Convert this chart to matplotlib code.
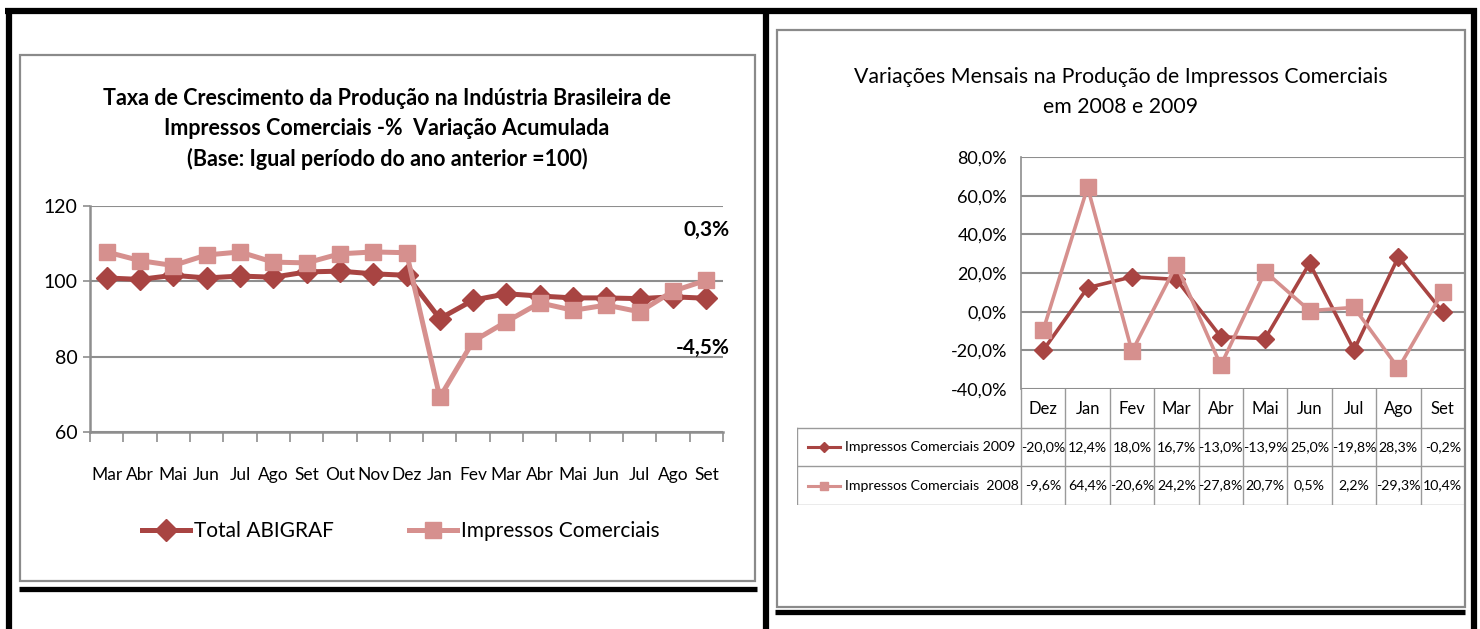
import matplotlib
matplotlib.use('Agg')
import matplotlib.pyplot as plt
from matplotlib.lines import Line2D
from matplotlib.patches import Rectangle

plt.rcParams['font.family'] = ['Lato', 'DejaVu Sans']

# ---------------- data ----------------
left_months = ['Mar', 'Abr', 'Mai', 'Jun', 'Jul', 'Ago', 'Set', 'Out', 'Nov', 'Dez',
               'Jan', 'Fev', 'Mar', 'Abr', 'Mai', 'Jun', 'Jul', 'Ago', 'Set']
total_abigraf = [100.9, 100.5, 101.6, 100.9, 101.4, 101.1, 102.5, 102.7, 102.0, 101.6,
                 90.1, 95.0, 96.7, 96.1, 95.6, 95.6, 95.4, 95.9, 95.5]
impressos_acum = [107.8, 105.5, 104.2, 107.0, 107.8, 105.1, 104.9, 107.3, 107.8, 107.6,
                  69.2, 84.1, 89.3, 94.3, 92.3, 93.7, 91.9, 97.4, 100.3]
left_yticks = [60, 80, 100, 120]

right_months = ['Dez', 'Jan', 'Fev', 'Mar', 'Abr', 'Mai', 'Jun', 'Jul', 'Ago', 'Set']
imp_2009 = [-20.0, 12.4, 18.0, 16.7, -13.0, -13.9, 25.0, -19.8, 28.3, -0.2]
imp_2008 = [-9.6, 64.4, -20.6, 24.2, -27.8, 20.7, 0.5, 2.2, -29.3, 10.4]
right_yticks = [-40, -20, 0, 20, 40, 60, 80]

DARK = '#A84442'
LIGHT = '#D6908E'
GRID = '#8E8E8E'

W, H = 1480, 629
fig = plt.figure(figsize=(14.8, 6.29), dpi=100)


def fx(px):
    return px / W


def fy(py):
    return 1 - py / H


def fline(x0, y0, x1, y1, lw, color='black'):
    fig.add_artist(Line2D([fx(x0), fx(x1)], [fy(y0), fy(y1)], transform=fig.transFigure,
                          color=color, lw=lw, solid_capstyle='butt'))


def fbox(x0, y0, x1, y1):
    fig.add_artist(Rectangle((fx(x0), fy(y1)), fx(x1) - fx(x0), fy(y0) - fy(y1),
                             transform=fig.transFigure, fill=False, edgecolor='#8A8A8A', lw=1.6))


# chart boxes
fbox(20, 55, 755, 581)
fbox(777, 30, 1465, 607)

# thick black frame lines
fline(5, 11, 1477, 11, 4.5)
fline(9, 8, 9, 629, 4.5)
fline(766, 8, 766, 629, 4.5)
fline(1474, 8, 1474, 629, 4.5)
fline(19, 589, 757, 589, 3.8)
fline(775, 612, 1465, 612, 3.8)

# ---------------- left chart ----------------
ax1 = fig.add_axes([fx(90), fy(432), fx(723) - fx(90), fy(206) - fy(432)])
x1 = list(range(len(left_months)))
ax1.plot(x1, total_abigraf, color=DARK, lw=3.6, marker='D', markersize=11, label='Total ABIGRAF', zorder=3)
ax1.plot(x1, impressos_acum, color=LIGHT, lw=3.6, marker='s', markersize=12, label='Impressos Comerciais', zorder=4)
ax1.set_xlim(-0.5, len(left_months) - 0.5)
ax1.set_ylim(60, 120)
ax1.set_yticks(left_yticks)
ax1.set_xticks(x1)
ax1.set_xticklabels(left_months, fontsize=12.5)
ax1.set_xticks([i - 0.5 for i in range(len(left_months) + 1)], minor=True)
ax1.tick_params(axis='x', which='major', length=0, pad=25)
ax1.tick_params(axis='x', which='minor', length=7, color=GRID, width=1.2)
ax1.tick_params(axis='y', length=5, color=GRID, width=1.2, labelsize=14, pad=4)
ax1.grid(axis='y', color=GRID, lw=1.5)
ax1.set_axisbelow(True)
for s in ['top', 'right']:
    ax1.spines[s].set_visible(False)
for s in ['left', 'bottom']:
    ax1.spines[s].set_color(GRID)
    ax1.spines[s].set_linewidth(1.8)

last = len(left_months) - 1
ax1.text(last, 113.6, f"{impressos_acum[-1] - 100:.1f}%".replace('.', ','), ha='center', va='center',
         fontsize=15, fontweight='bold')
ax1.text(last - 0.1, 82.3, f"{total_abigraf[-1] - 100:.1f}%".replace('.', ','), ha='center', va='center',
         fontsize=15, fontweight='bold')

fig.text(fx(387), fy(129), 'Taxa de Crescimento da Produção na Indústria Brasileira de\n'
         'Impressos Comerciais -%  Variação Acumulada\n'
         '(Base: Igual período do ano anterior =100)',
         ha='center', va='center', fontsize=15.5, fontweight='bold', linespacing=1.5)

leg = ax1.legend(loc='center', bbox_to_anchor=(fx(401), fy(531)), bbox_transform=fig.transFigure,
                 ncol=2, frameon=False, fontsize=15, handlelength=2.3, columnspacing=3.6,
                 handletextpad=0.2, markerscale=1.0)

# ---------------- right chart ----------------
ax2 = fig.add_axes([fx(1021), fy(389), fx(1465) - fx(1021), fy(157) - fy(389)])
x2 = list(range(len(right_months)))
ax2.plot(x2, imp_2009, color=DARK, lw=2.6, marker='D', markersize=9, zorder=3)
ax2.plot(x2, imp_2008, color=LIGHT, lw=2.6, marker='s', markersize=11, zorder=4)
ax2.set_xlim(-0.5, len(right_months) - 0.5)
ax2.set_ylim(-40, 80)
ax2.set_yticks(right_yticks)
ax2.set_yticklabels([f"{v:.1f}%".replace('.', ',') for v in right_yticks], fontsize=13)
ax2.set_xticks([])
ax2.tick_params(axis='y', length=0, pad=10)
ax2.grid(axis='y', color=GRID, lw=1.5)
ax2.set_axisbelow(True)
for s in ['top', 'right', 'bottom']:
    ax2.spines[s].set_visible(False)
ax2.spines['left'].set_color(GRID)
ax2.spines['left'].set_linewidth(1.2)

fig.text(fx(1121), fy(92), 'Variações Mensais na Produção de Impressos Comerciais\nem 2008 e 2009',
         ha='center', va='center', fontsize=15.3, linespacing=1.65)

# table under right chart
t_left_px, t_right_px = 797, 1465
col_px = (1465 - 1021) / len(right_months)
t_xmin = -0.5 - (1021 - t_left_px) / col_px
axt = fig.add_axes([fx(t_left_px), fy(505), fx(t_right_px) - fx(t_left_px), fy(389) - fy(505)])
axt.set_xlim(t_xmin, len(right_months) - 0.5)
axt.set_ylim(505, 389)
axt.axis('off')


def tx(px):
    return t_xmin + (px - t_left_px) / col_px


rows_y = [389, 428, 466, 505]
TL = '#9A9A9A'
for i in range(len(right_months) + 1):
    axt.plot([i - 0.5, i - 0.5], [rows_y[0], rows_y[3]], color=TL, lw=1.0)
axt.plot([t_xmin, t_xmin], [rows_y[1], rows_y[3]], color=TL, lw=1.0)
for yv in rows_y[1:]:
    axt.plot([t_xmin, len(right_months) - 0.5], [yv, yv], color=TL, lw=1.0)

for i, m in enumerate(right_months):
    axt.text(i, (rows_y[0] + rows_y[1]) / 2, m, ha='center', va='center', fontsize=12)

series_rows = [('Impressos Comerciais 2009', imp_2009, DARK, 'D', 5),
               ('Impressos Comerciais  2008', imp_2008, LIGHT, 's', 6)]
for r, (name, vals, col, mk, ms) in enumerate(series_rows):
    yc = (rows_y[r + 1] + rows_y[r + 2]) / 2
    axt.plot([tx(808), tx(840)], [yc, yc], color=col, lw=2.2)
    axt.plot([(tx(808) + tx(840)) / 2], [yc], color=col, marker=mk, markersize=ms)
    axt.text(tx(845), yc, name, ha='left', va='center', fontsize=10.2)
    for i, v in enumerate(vals):
        axt.text(i, yc, f"{v:.1f}%".replace('.', ','), ha='center', va='center', fontsize=10.2)

fig.savefig('out.png', dpi=100)
